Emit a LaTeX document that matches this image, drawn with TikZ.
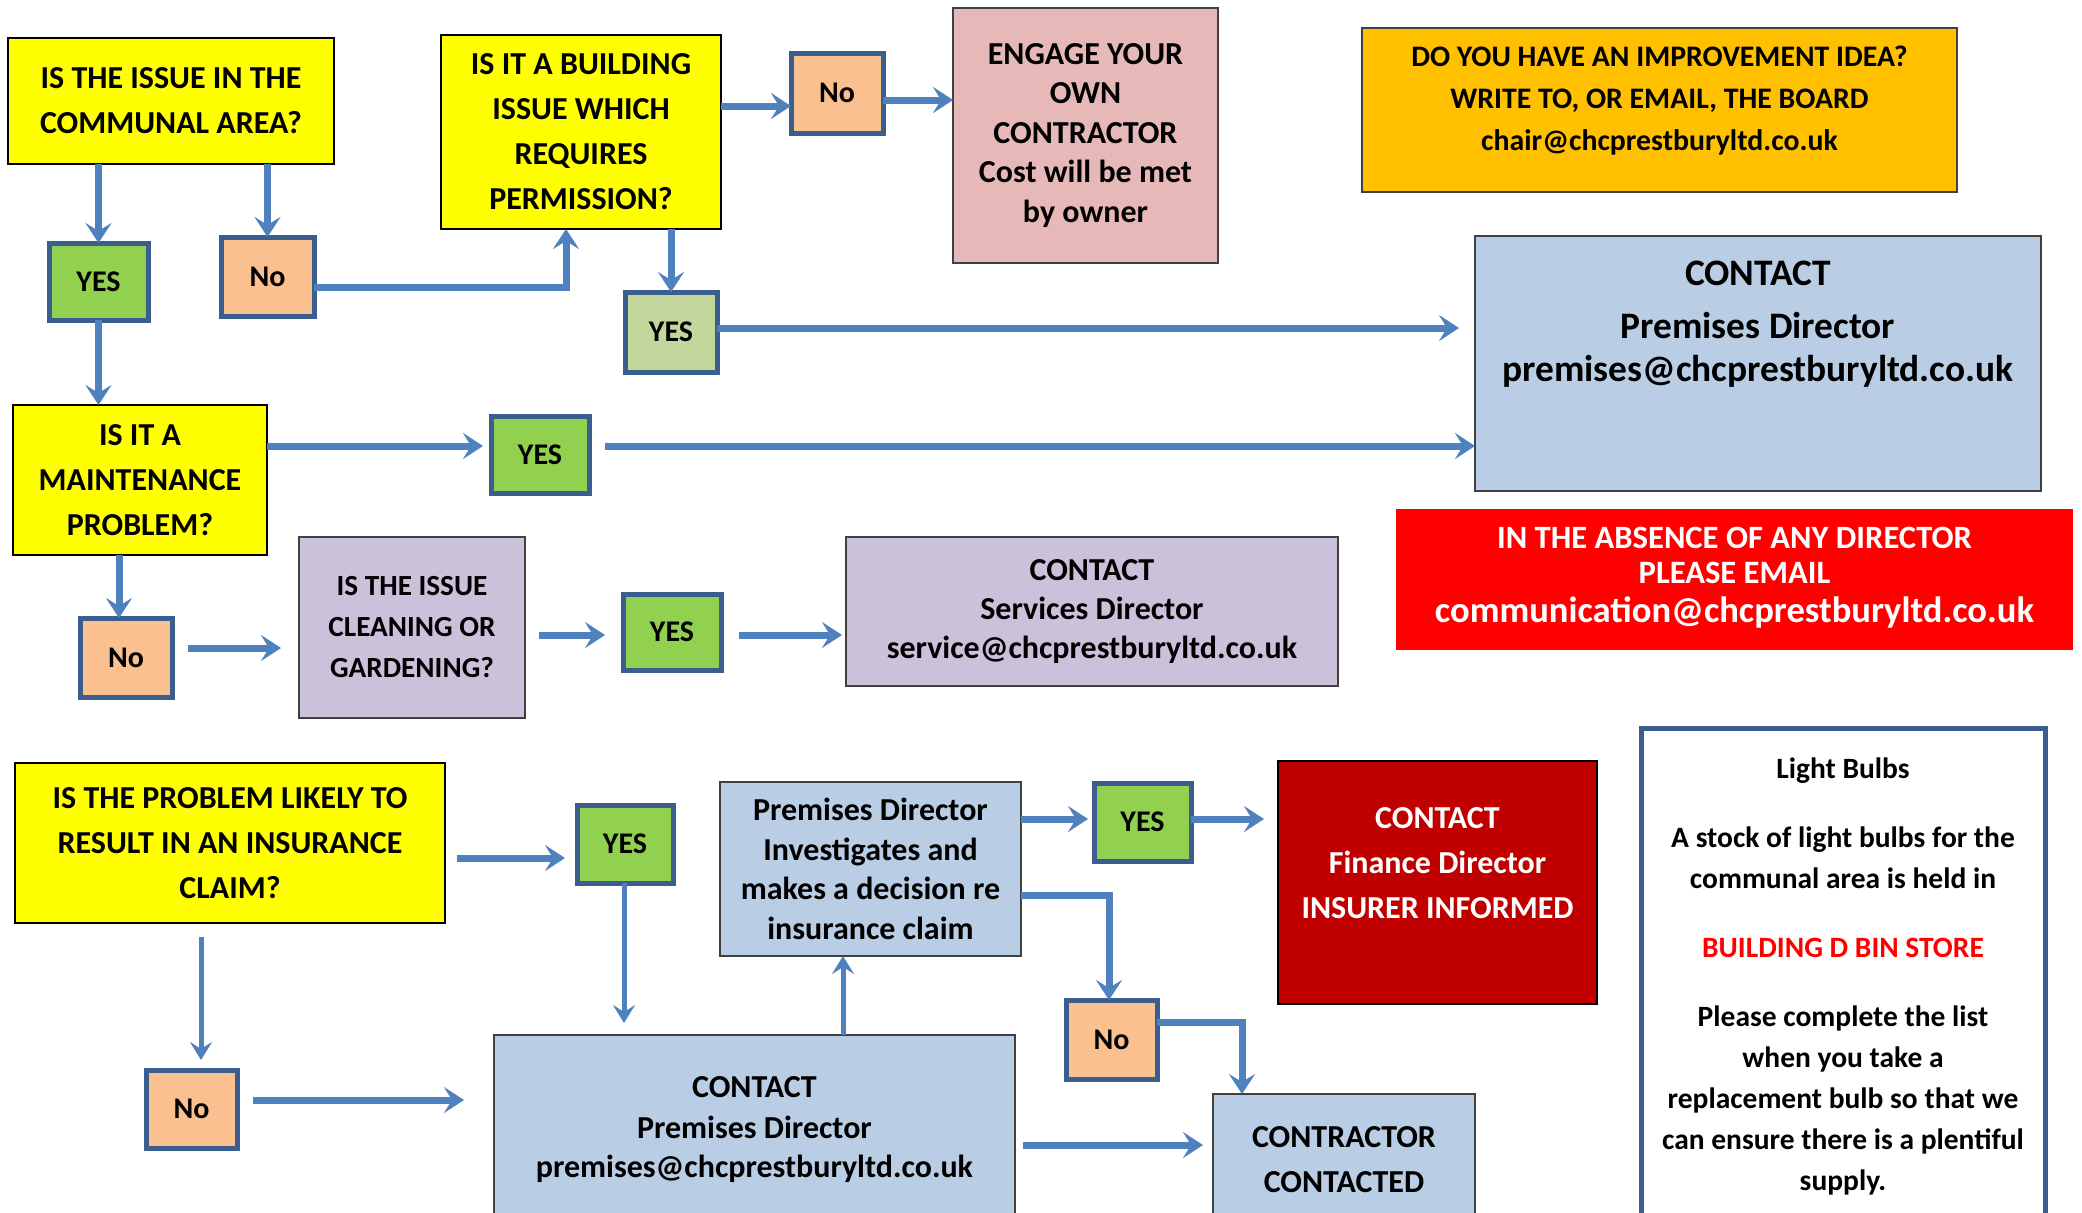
\documentclass[tikz,border=0pt]{standalone}
\usepackage{fontspec}
\setmainfont{Carlito}
\usetikzlibrary{arrows.meta,calc}
\definecolor{yq}{HTML}{FFFF00}
\definecolor{gy}{HTML}{92D050}
\definecolor{lgy}{HTML}{C3D69B}
\definecolor{pch}{HTML}{FAC090}
\definecolor{pnk}{HTML}{E6B9B8}
\definecolor{lav}{HTML}{CCC1DA}
\definecolor{lbl}{HTML}{B9CDE5}
\definecolor{gold}{HTML}{FFC000}
\definecolor{rd}{HTML}{FF0000}
\definecolor{drd}{HTML}{C00000}
\definecolor{ab}{HTML}{4F81BD}
\definecolor{bd}{HTML}{3A5F8E}
\newcommand\myfs[2]{\fontsize{#1}{#2}\selectfont}
% style, name, x1, y1, x2, y2, text
\newcommand\bx[7]{\node[#1, minimum width={(#5-#3)*0.5pt}, minimum height={(#6-#4)*0.5pt}] (#2) at ({(#3+#5)/2},{(#4+#6)/2}) {#7};}
\begin{document}
\begin{tikzpicture}[x=0.5pt,y=-0.5pt,
  every node/.style={inner sep=0pt, outer sep=0pt, align=center},
  qbox/.style={fill=yq, draw=black, line width=1pt, font=\bfseries\myfs{16}{22.5}},
  yesbox/.style={fill=gy, draw=bd, line width=2.5pt, font=\bfseries\myfs{15}{17}},
  nobox/.style={fill=pch, draw=bd, line width=2.5pt, font=\bfseries\myfs{15}{17}},
  plainbox/.style={draw=black!75, line width=0.8pt, font=\bfseries\myfs{16}{19.75}},
  arr/.style={draw=ab, line width=3.5pt, -{Stealth[length=10pt,width=13pt,inset=4pt]}},
  tarr/.style={draw=ab, line width=2.5pt, -{Stealth[length=9pt,width=11pt,inset=3.5pt]}}]
\useasboundingbox (0,0) rectangle (2082,1212);
\fill[white] (0,0) rectangle (2082,1212);

% top row
\bx{qbox}{A}{8}{38}{334}{164}{IS THE ISSUE IN THE\\COMMUNAL AREA?}
\bx{yesbox}{Y1}{49}{243}{148}{320}{YES}
\bx{nobox}{N1}{221}{237}{314}{316}{No}
\bx{qbox}{B}{441}{35}{721}{229}{IS IT A BUILDING\\ISSUE WHICH\\REQUIRES\\PERMISSION?}
\bx{nobox}{N2}{791}{53}{883}{133}{No}
\bx{plainbox, fill=pnk}{E}{953}{8}{1218}{263}{ENGAGE YOUR\\OWN\\CONTRACTOR\\Cost will be met\\by owner}
\bx{yesbox, fill=lgy}{Y2}{625}{292}{717}{372}{YES}
\bx{plainbox, fill=gold}{I}{1362}{28}{1957}{192}{}
\node[font=\bfseries\myfs{14.9}{21}] (It) at (1659.5,101) {DO YOU HAVE AN IMPROVEMENT IDEA?\\WRITE TO, OR EMAIL, THE BOARD\\chair@chcprestburyltd.co.uk};
\bx{plainbox, fill=lbl}{P}{1475}{236}{2041}{491}{}
\node[font=\bfseries\myfs{18.7}{21.5}] (Pt) at (1758,324) {CONTACT\\[5pt]Premises Director\\premises@chcprestburyltd.co.uk};

% middle rows
\bx{qbox}{M}{13}{405}{267}{555}{IS IT A\\MAINTENANCE\\PROBLEM?}
\bx{yesbox}{Y3}{491}{416}{589}{493}{YES}
\bx{nobox}{N3}{80}{618}{172}{697}{No}
\bx{plainbox, fill=lav, font=\bfseries\myfs{14.6}{20.5}}{C}{299}{537}{525}{718}{IS THE ISSUE\\CLEANING OR\\GARDENING?}
\bx{yesbox}{Y4}{623}{594}{721}{670}{YES}
\bx{plainbox, fill=lav, font=\bfseries\myfs{16}{19.5}}{S}{846}{537}{1338}{686}{CONTACT\\Services Director\\service@chcprestburyltd.co.uk}
\bx{fill=rd}{R}{1396}{509}{2073}{650}{}
\node[text=white, font=\bfseries\myfs{16.3}{17.5}] (Rt) at (1734.5,578) {IN THE ABSENCE OF ANY DIRECTOR\\PLEASE EMAIL\\[2pt]{\myfs{18.3}{19.5}communication@chcprestburyltd.co.uk}};

% bottom rows
\bx{qbox}{Q}{15}{763}{445}{923}{IS THE PROBLEM LIKELY TO\\RESULT IN AN INSURANCE\\CLAIM?}
\bx{yesbox}{Y5}{577}{805}{673}{883}{YES}
\bx{plainbox, fill=lbl}{V}{720}{782}{1021}{956}{Premises Director\\Investigates and\\makes a decision re\\insurance claim}
\bx{yesbox}{Y6}{1094}{783}{1191}{861}{YES}
\bx{fill=drd, draw=black, line width=1.2pt}{F}{1278}{761}{1597}{1004}{}
\node[text=white, font=\bfseries\myfs{16}{22.5}] (Ft) at (1437.5,863) {CONTACT\\Finance Director\\INSURER INFORMED};
\bx{nobox}{N4}{1066}{1000}{1157}{1079}{No}
\bx{plainbox, fill=lbl, font=\bfseries\myfs{16}{22.5}}{K}{1213}{1094}{1475}{1225}{CONTRACTOR\\CONTACTED}
\bx{nobox}{N5}{146}{1070}{237}{1148}{No}
\bx{plainbox, fill=lbl, font=\bfseries\myfs{16}{20}}{D}{494}{1035}{1015}{1225}{CONTACT\\Premises Director\\premises@chcprestburyltd.co.uk}
\bx{draw=bd, line width=2.5pt, fill=white, font=\bfseries\myfs{14.75}{20.5}}{L}{1641}{728}{2045}{1225}{Light Bulbs\\[14pt]A stock of light bulbs for the\\communal area is held in\\[14pt]\textcolor{rd}{BUILDING D BIN STORE}\\[14pt]Please complete the list\\when you take a\\replacement bulb so that we\\can ensure there is a plentiful\\supply.}

% connectors
\draw[arr] (A.south -| Y1.north) -- (Y1.north);
\draw[arr] (A.south -| N1.north) -- (N1.north);
\draw[arr] (N1.east |- 0,287) -| (B.south -| 566,0);
\draw[arr] (B.east |- 0,106) -- (N2.west |- 0,106);
\draw[arr] (N2.east |- 0,100) -- (E.west |- 0,100);
\draw[arr] (B.south -| Y2.north) -- (Y2.north);
\draw[arr, shorten >=8pt] (Y2.east |- 0,328) -- (P.west |- 0,328);
\draw[arr] (Y1.south) -- (M.north -| Y1.south);
\draw[arr, shorten >=4pt] (M.east |- 0,446) -- (Y3.west |- 0,446);
\draw[arr, shorten <=8pt] (Y3.east |- 0,446) -- (P.west |- 0,446);
\draw[arr] (M.south -| 119,0) -- (N3.north -| 119,0);
\draw[arr, shorten <=8pt, shorten >=9pt] (N3.east |- 0,648) -- (C.west |- 0,648);
\draw[arr, shorten <=7pt, shorten >=9pt] (C.east |- 0,635) -- (Y4.west |- 0,635);
\draw[arr, shorten <=9pt, shorten >=2pt] (Y4.east |- 0,635) -- (S.west |- 0,635);
\draw[arr, shorten <=6pt, shorten >=6pt] (Q.east |- 0,858) -- (Y5.west |- 0,858);
\draw[tarr, shorten >=6pt] (Y5.south -| 624,0) -- (D.north -| 624,0);
\draw[tarr] (D.north -| 843,0) -- (V.south -| 843,0);
\draw[arr, shorten >=3pt] (V.east |- 0,819) -- (Y6.west |- 0,819);
\draw[arr, shorten >=7pt] (Y6.east |- 0,819) -- (F.west |- 0,819);
\draw[arr] (V.east |- 0,895) -| (N4.north -| 1109,0);
\draw[arr] (N4.east |- 0,1022) -| (K.north -| 1242,0);
\draw[tarr, shorten <=7pt, shorten >=5pt] (Q.south -| 201,0) -- (N5.north -| 201,0);
\draw[arr, shorten <=8pt, shorten >=15pt] (N5.east |- 0,1100) -- (D.west |- 0,1100);
\draw[arr, shorten <=4pt, shorten >=5pt] (D.east |- 0,1145) -- (K.west |- 0,1145);
\end{tikzpicture}
\end{document}
